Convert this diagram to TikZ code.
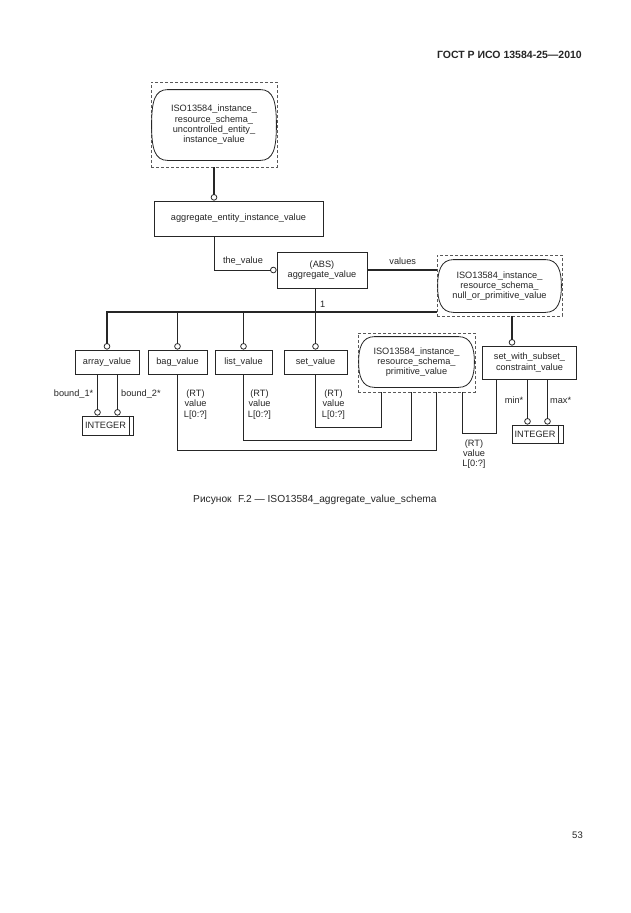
\documentclass[tikz,border=0pt]{standalone}
\usepackage{fontspec}
\setmainfont{Liberation Sans}
\usetikzlibrary{arrows.meta,calc}
\tikzset{
  box/.style={draw=black!85, line width=0.8pt, rectangle, inner sep=0pt, font=\fontsize{9.2}{10.3}\selectfont, align=center, text=black!85},
  dbox/.style={draw=black!65, line width=0.7pt, dash pattern=on 3pt off 2pt, rectangle, inner sep=0pt},
  rbox/.style={box, draw=none},
  outl/.style={draw=black!85, line width=0.8pt},
  thickln/.style={line width=1.9pt, draw=black!85},
  thinln/.style={line width=0.8pt, draw=black!85},
  ring/.style={-{Circle[open,length=6.5pt,width=6.5pt,line width=0.8pt]}},
  lbl/.style={font=\fontsize{9.2}{10.3}\selectfont, inner sep=0pt, align=center, text=black!85},
}
% capsule outline around a node: flat top and bottom, curved sides
\newcommand\drawcap[1]{%
  \draw[outl]
    ($(#1.north west)+(16,0)$) -- ($(#1.north east)+(-16,0)$)
    .. controls ($(#1.north east)+(-3,0)$) and ($(#1.north east)+(0,12)$) .. (#1.east)
    .. controls ($(#1.south east)+(0,-12)$) and ($(#1.south east)+(-3,0)$) .. ($(#1.south east)+(-16,0)$)
    -- ($(#1.south west)+(16,0)$)
    .. controls ($(#1.south west)+(3,0)$) and ($(#1.south west)+(0,-12)$) .. (#1.west)
    .. controls ($(#1.north west)+(0,12)$) and ($(#1.north west)+(3,0)$) .. cycle;}
\begin{document}
\begin{tikzpicture}[x=1pt,y=-1pt]
\useasboundingbox[fill=white] (0,0) rectangle (630,913);

\node[lbl, anchor=east, font=\fontsize{10.5}{12}\selectfont\bfseries] (hdr) at (582,55) {ГОСТ Р ИСО 13584-25—2010};

\node[dbox, minimum width=126, minimum height=85] (d1) at (214,124.5) {};
\node[rbox, minimum width=124, minimum height=70] (r1) at (214,125) {ISO13584\_instance\_\\resource\_schema\_\\uncontrolled\_entity\_\\instance\_value};
\drawcap{r1}
\node[box, minimum width=169, minimum height=35] (aeiv) at (238.5,218.5) {aggregate\_entity\_instance\_value};
\node[box, minimum width=90, minimum height=36] (av) at (322,270) {(ABS)\\aggregate\_value};
\node[dbox, minimum width=125, minimum height=61] (d2) at (499.5,285.5) {};
\node[rbox, minimum width=123, minimum height=52] (r2) at (499.5,286) {ISO13584\_instance\_\\resource\_schema\_\\null\_or\_primitive\_value};
\drawcap{r2}
\node[box, minimum width=64, minimum height=24] (arr) at (107,362) {array\_value};
\node[box, minimum width=59, minimum height=24] (bag) at (177.5,362) {bag\_value};
\node[box, minimum width=57, minimum height=24] (lst) at (243.5,362) {list\_value};
\node[box, minimum width=63, minimum height=24] (set) at (315.5,362) {set\_value};
\node[dbox, minimum width=117, minimum height=59] (d3) at (416.5,362.5) {};
\node[rbox, minimum width=115, minimum height=50] (r3) at (416.5,362) {ISO13584\_instance\_\\resource\_schema\_\\primitive\_value};
\drawcap{r3}
\node[box, minimum width=94, minimum height=33] (sws) at (529.5,362.5) {set\_with\_subset\_\\constraint\_value};
\node[box, minimum width=51, minimum height=19] (int1) at (107.5,425.5) {INTEGER\hspace*{4pt}};
\draw[thinln] ([xshift=-4.5pt]int1.north east) -- ([xshift=-4.5pt]int1.south east);
\node[box, minimum width=51, minimum height=18] (int2) at (537.5,434) {INTEGER\hspace*{5pt}};
\draw[thinln] ([xshift=-5.5pt]int2.north east) -- ([xshift=-5.5pt]int2.south east);

\coordinate (xa) at (214,0);
\coordinate (bus) at (0,312);
\coordinate (xn) at (512,0);
\coordinate (yb) at (0,450);
\coordinate (xb) at (436,0);
\coordinate (yl) at (0,440);
\coordinate (xl) at (411.7,0);
\coordinate (ys) at (0,427.7);
\coordinate (xs) at (381.7,0);
\coordinate (xw) at (496,0);
\coordinate (yw) at (0,433.3);
\coordinate (xp) at (462.7,0);

\draw[thickln, ring] (d1.south) -- (d1.south |- aeiv.north);
\draw[thinln, ring] (aeiv.south -| xa) |- (av.west);
\node[lbl] (tv) at (243,261.5) {the\_value};
\draw[thickln] (av.east) -- (av.east -| d2.west);
\node[lbl] (vl) at (402.7,261) {values};

\draw[thickln, ring] (d2.west |- bus) -| (arr.north);
\draw[thickln, ring] (bag.north |- bus) -- (bag.north);
\draw[thickln, ring] (lst.north |- bus) -- (lst.north);
\draw[thickln, ring] (set.north |- av.south) -- (set.north);
\node[lbl] (one) at (322.7,304) {1};
\draw[thickln, ring] (d2.south -| xn) -- (sws.north -| xn);

\draw[thinln, ring] ([xshift=-10pt]int1.north |- arr.south) -- ([xshift=-10pt]int1.north);
\draw[thinln, ring] ([xshift=10pt]int1.north |- arr.south) -- ([xshift=10pt]int1.north);
\node[lbl, anchor=east] (b1) at (93.5,394) {bound\_1*};
\node[lbl, anchor=west] (b2) at (121,394) {bound\_2*};

\draw[thinln] (bag.south) |- (xb |- yb) -- (d3.south -| xb);
\draw[thinln] (lst.south) |- (xl |- yl) -- (d3.south -| xl);
\draw[thinln] (set.south) |- (xs |- ys) -- (d3.south -| xs);
\draw[thinln] (sws.south -| xw) |- (xp |- yw) -- (d3.south -| xp);

\draw[thinln, ring] ([xshift=-10pt]int2.north |- sws.south) -- ([xshift=-10pt]int2.north);
\draw[thinln, ring] ([xshift=10pt]int2.north |- sws.south) -- ([xshift=10pt]int2.north);
\node[lbl, anchor=east] (mn) at (523.5,400) {min*};
\node[lbl, anchor=west] (mx) at (550,400) {max*};

\node[lbl] (rt1) at (195.5,404.5) {(RT)\\value\\L[0:?]};
\node[lbl] (rt2) at (259.5,404.5) {(RT)\\value\\L[0:?]};
\node[lbl] (rt3) at (333.5,404.5) {(RT)\\value\\L[0:?]};
\node[lbl] (rt4) at (474,454) {(RT)\\value\\L[0:?]};

\node[lbl, anchor=west, font=\fontsize{10.2}{12}\selectfont] (cap) at (193,500) {Рисунок\hspace{6.5pt}F.2 — ISO13584\_aggregate\_value\_schema};
\node[lbl, anchor=east, font=\fontsize{9.5}{11}\selectfont] (pg) at (583,835) {53};
\end{tikzpicture}
\end{document}
